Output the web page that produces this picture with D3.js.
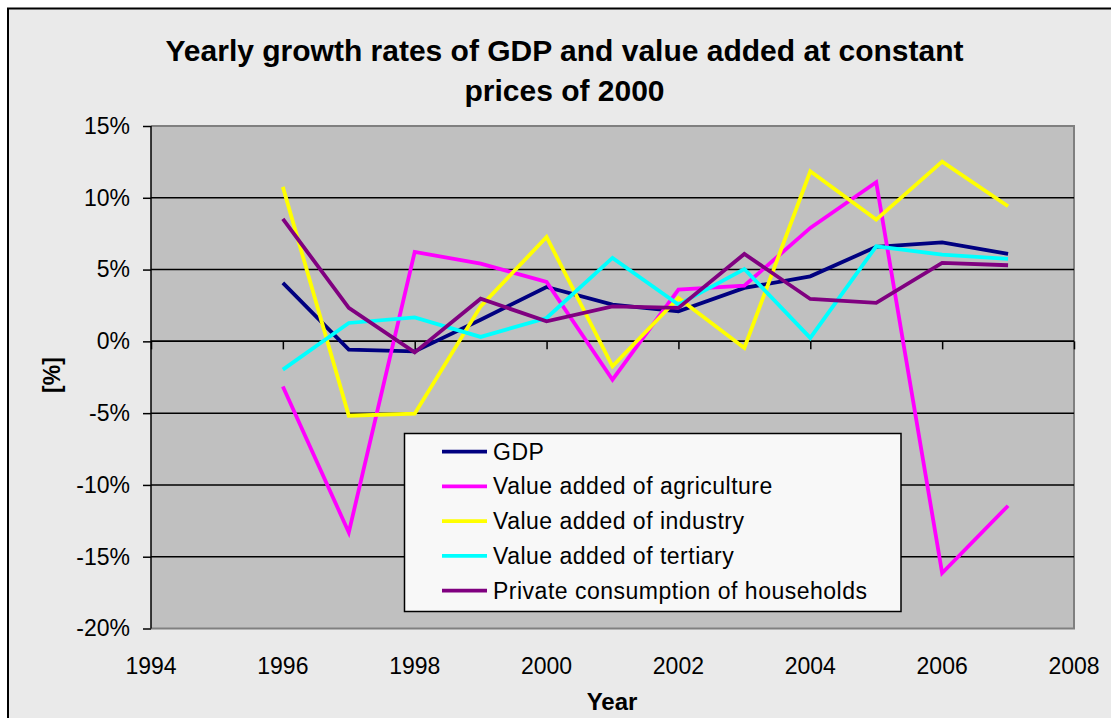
<!DOCTYPE html>
<html><head><meta charset="utf-8">
<script src="https://cdn.jsdelivr.net/npm/d3@7"></script>
<style>
html,body{margin:0;padding:0;background:#fff;}
svg{display:block;font-family:"Liberation Sans",Arial,sans-serif;}
</style></head>
<body>
<svg id="chart" width="1111" height="718"></svg>
<script>
const years = [1996,1997,1998,1999,2000,2001,2002,2003,2004,2005,2006,2007];
const gdp         = [4.07,-0.58,-0.70,1.50,3.79,2.56,2.09,3.72,4.53,6.58,6.90,6.09];
const agriculture = [-3.14,-13.31,6.23,5.41,4.14,-2.67,3.60,3.88,7.90,11.08,-16.14,-11.45];
const industry    = [10.76,-5.18,-5.04,2.44,7.27,-1.74,3.02,-0.46,11.85,8.48,12.52,9.41];
const tertiary    = [-1.97,1.28,1.67,0.31,1.63,5.81,2.56,5.04,0.24,6.62,6.04,5.74];
const consumption = [8.53,2.33,-0.77,2.97,1.39,2.44,2.33,6.09,2.95,2.68,5.46,5.30];
const seriesNames = ["GDP","Value added of agriculture","Value added of industry","Value added of tertiary","Private consumption of households"];
const seriesColors = ["#000080","#ff00ff","#ffff00","#00ffff","#800080"];
const xTicks = [1994,1996,1998,2000,2002,2004,2006,2008];
const yTicks = [-20,-15,-10,-5,0,5,10,15];
const titleLines = ["Yearly growth rates of GDP and value added at constant","prices of 2000"];

const seriesValues = [gdp, agriculture, industry, tertiary, consumption];

const svg = d3.select("#chart");
const L = 151, R = 1074, T = 126, B = 628.5;

// outer chart area
svg.append("rect").attr("x",0).attr("y",0).attr("width",1111).attr("height",718).attr("fill","#ffffff");
svg.append("rect").attr("x",8).attr("y",8.5).attr("width",1115).attr("height",720)
  .attr("fill","#eaeaea").attr("stroke","#000").attr("stroke-width",2);

const x = d3.scaleLinear().domain([1994,2008]).range([L,R]);
const y = d3.scaleLinear().domain([-20,15]).range([B,T]);

// plot area
svg.append("rect").attr("x",L).attr("y",T).attr("width",R-L).attr("height",B-T)
  .attr("fill","#c0c0c0");
svg.append("path").attr("d",`M${L},${T}H${R}V${B}H${L}`).attr("fill","none")
  .attr("stroke","#808080").attr("stroke-width",2);

// gridlines
svg.append("g").selectAll("line").data(yTicks.filter(d=>d!==-20&&d!==15)).join("line")
  .attr("x1",L).attr("x2",R).attr("y1",d=>y(d)).attr("y2",d=>y(d))
  .attr("stroke","#000").attr("stroke-width",1.5);

// y axis
const yAxis = d3.axisLeft(y).tickValues(yTicks).tickFormat(d=>d+"%").tickSize(8).tickPadding(13);
const gy = svg.append("g").attr("transform",`translate(${L},0)`).call(yAxis);
gy.select(".domain").attr("stroke","#000").attr("stroke-width",1.5).attr("d",`M0,${T}V${B}`);
gy.selectAll(".tick line").attr("stroke","#000").attr("stroke-width",1.5);
gy.selectAll(".tick text").attr("font-size",23).attr("fill","#000").attr("font-family","Liberation Sans, Arial, sans-serif");

// x axis at 0%
const xAxis = d3.axisBottom(x).tickValues(xTicks).tickFormat("").tickSize(8);
const gx = svg.append("g").attr("transform",`translate(0,${y(0)})`).call(xAxis);
gx.select(".domain").attr("stroke","#000").attr("stroke-width",1.5).attr("d",`M${L},0H${R}`);
gx.selectAll(".tick line").attr("stroke","#000").attr("stroke-width",1.5);

// x tick labels below plot
svg.append("g").selectAll("text").data(xTicks).join("text")
  .attr("x",d=>x(d)).attr("y",674).attr("text-anchor","middle")
  .attr("font-size",23).attr("fill","#000").text(d=>d);

// lines
const line = d3.line().x((d,i)=>x(years[i])).y(d=>y(d));
seriesValues.forEach((vals,k)=>{
  svg.append("path").datum(vals).attr("d",line).attr("fill","none")
    .attr("stroke",seriesColors[k]).attr("stroke-width",3.8).attr("stroke-linejoin","miter");
});

// title
svg.append("g").selectAll("text").data(titleLines).join("text")
  .attr("x",564.5).attr("y",(d,i)=>61+i*40).attr("text-anchor","middle")
  .attr("font-size",30).attr("font-weight","bold").attr("fill","#000").text(d=>d);

// axis titles
svg.append("text").attr("x",612).attr("y",710).attr("text-anchor","middle")
  .attr("font-size",24).attr("font-weight","bold").text("Year");
svg.append("text").attr("transform","translate(60,375) rotate(-90)").attr("text-anchor","middle")
  .attr("font-size",23).attr("font-weight","bold").text("[%]");

// legend
const lg = svg.append("g");
lg.append("rect").attr("x",404.5).attr("y",433.5).attr("width",496.5).attr("height",178)
  .attr("fill","#f8f8f8").attr("stroke","#000").attr("stroke-width",1.5);
const rows = lg.selectAll("g").data(seriesNames).join("g")
  .attr("transform",(d,i)=>`translate(0,${451.7+i*34.75})`);
rows.append("line").attr("x1",442).attr("x2",487).attr("y1",0).attr("y2",0)
  .attr("stroke",(d,i)=>seriesColors[i]).attr("stroke-width",3.8);
rows.append("text").attr("x",493).attr("y",8).attr("font-size",23).attr("letter-spacing",0.5)
  .attr("fill","#000").text(d=>d);
</script>
</body></html>
